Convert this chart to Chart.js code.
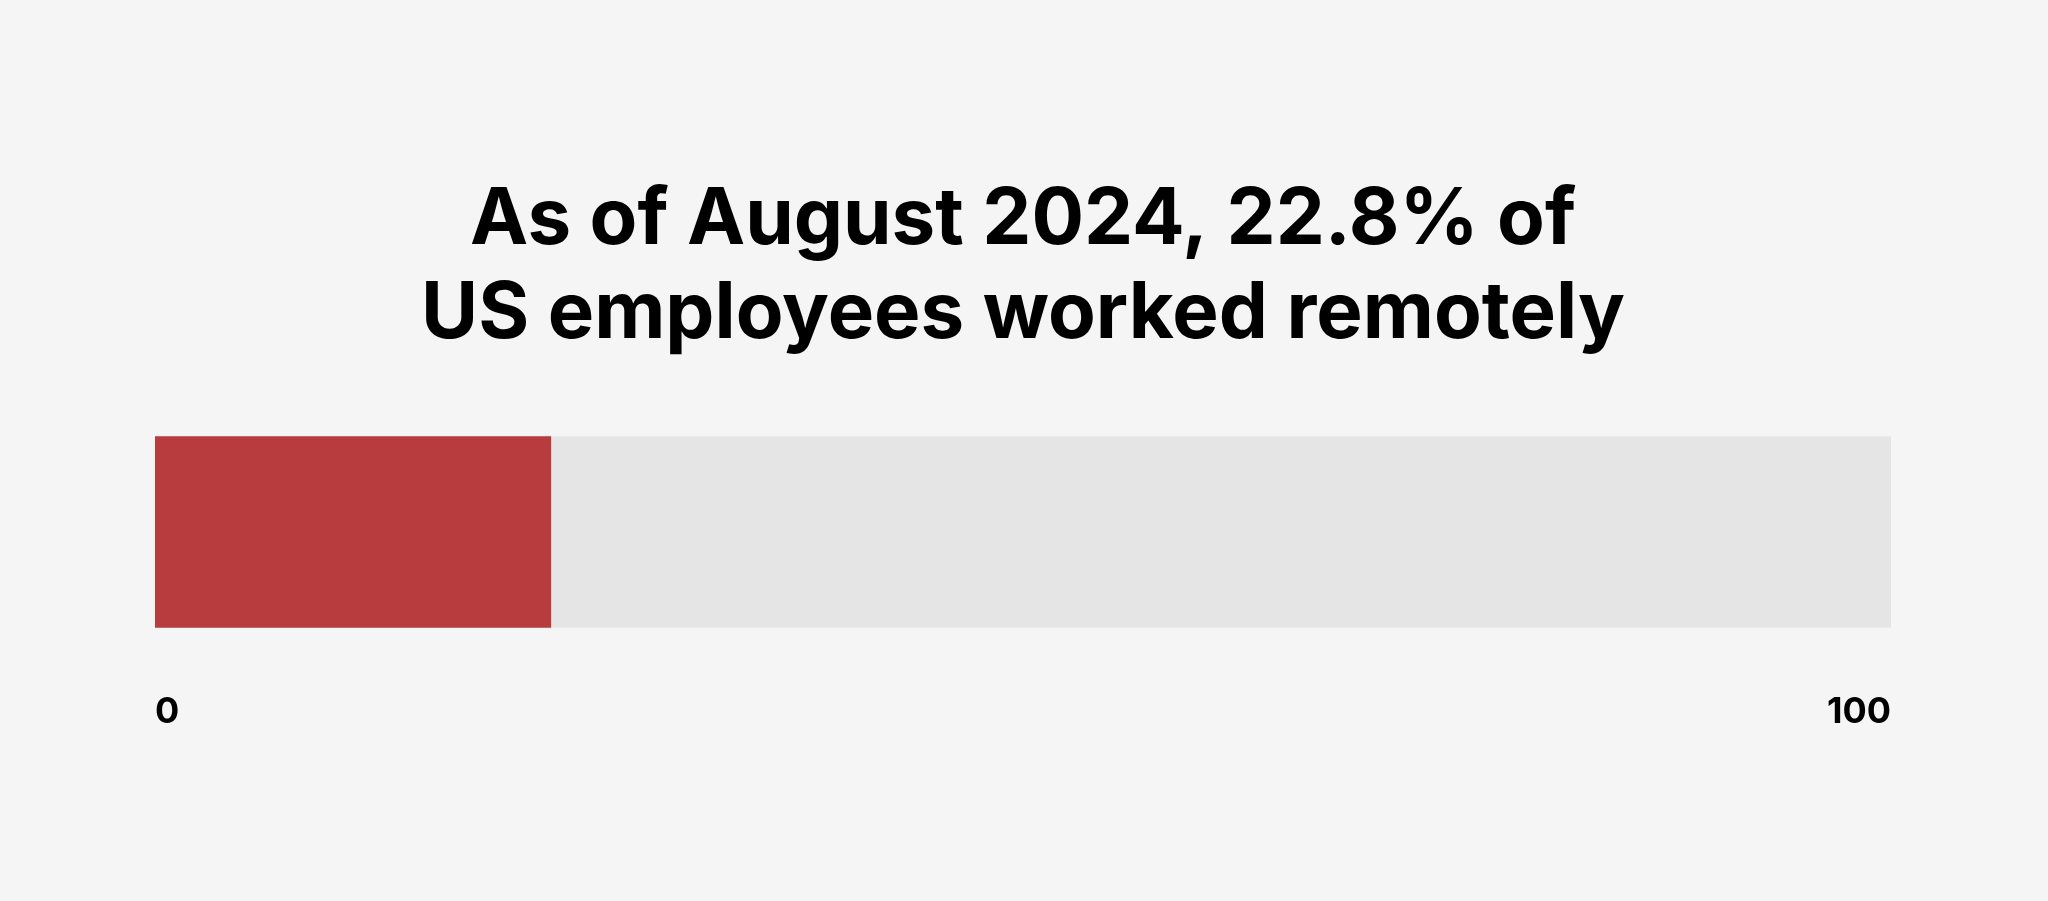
<!DOCTYPE html>
<html>
<head>
<meta charset="utf-8">
<script src="https://cdn.jsdelivr.net/npm/chart.js@4"></script>
<style>
  html, body { margin: 0; padding: 0; background: #f5f5f5; }
  #wrap { width: 2048px; height: 901px; }
</style>
</head>
<body>
<div id="wrap"><canvas id="myChart" width="2048" height="901"></canvas></div>
<script>
const categories = ['US employees'];
const remoteVals = [22.8];
const trackVals = [100];
const tickVals = [0, 100];
const titleLines = ['As of August 2024, 22.8% of', 'US employees worked remotely'];

var mychart = new Chart("myChart", {
    type: "bar",
    data: {
        labels: categories,
        datasets: [{
            label: 'Remote',
            data: remoteVals,
            backgroundColor: '#b83c3e',
            borderWidth: 0,
            order: 1,
            grouped: false,
            barPercentage: 1,
            categoryPercentage: 1,
        },
        {
            label: 'Total',
            data: trackVals,
            backgroundColor: '#e5e5e5',
            borderWidth: 0,
            order: 2,
            grouped: false,
            barPercentage: 1,
            categoryPercentage: 1,
        }]
    },
    options: {
        indexAxis: 'y',
        animation: false,
        responsive: false,
        layout: {
            padding: { left: 155, right: 157, top: 0, bottom: 104 }
        },
        scales: {
            x: {
                min: 0,
                max: 100,
                afterBuildTicks: (axis) => {
                    axis.ticks = tickVals.map(v => ({ value: v }));
                },
                grid: { display: false, drawTicks: false },
                border: { display: false },
                ticks: {
                    color: '#000',
                    align: 'inner',
                    padding: 63,
                    font: { family: 'Inter', weight: '700', size: 36 },
                },
            },
            y: {
                display: false,
            },
        },
        plugins: {
            legend: { display: false },
            tooltip: { enabled: false },
            title: {
                display: true,
                text: titleLines,
                color: '#000',
                font: { family: 'Inter', weight: '700', size: 78, lineHeight: 1.2 },
                padding: { top: 174, bottom: 75 },
            },
        },
    }
});
</script>
</body>
</html>
